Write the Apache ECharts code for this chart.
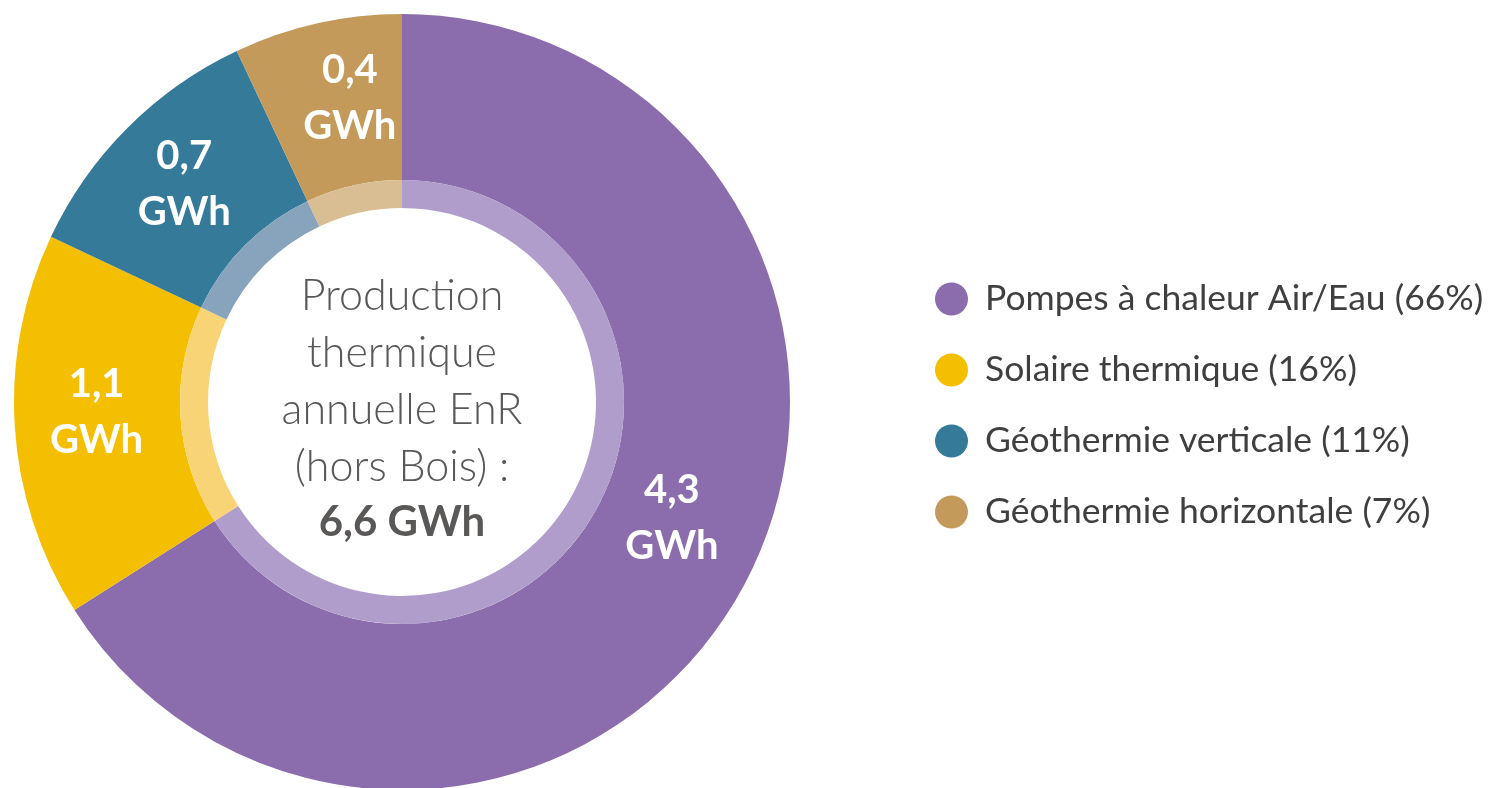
<!DOCTYPE html>
<html>
<head>
<meta charset="utf-8">
<script src="https://cdn.jsdelivr.net/npm/echarts@6/dist/echarts.min.js"></script>
<style>
  html, body { margin: 0; padding: 0; background: #ffffff; }
  #chart { width: 1497px; height: 788px; }
</style>
</head>
<body>
<div id="chart"></div>
<script>
// Sources of renewable heat (excluding wood)
const categories = [
  'Pompes à chaleur Air/Eau',
  'Solaire thermique',
  'Géothermie verticale',
  'Géothermie horizontale'
];
// Share of annual production, in percent
const shares = [66, 16, 11, 7];
// Annual production, in GWh
const gwh = [4.3, 1.1, 0.7, 0.4];
const totalGwh = 6.6;

const colors = ['#8B6DAD', '#F4BF00', '#367A9A', '#C49A5B'];
const lightColors = ['#B09DCB', '#F8D477', '#87A4BC', '#D9BE94'];
// small nudges so each value label sits well inside its slice
const labelOffsets = [[0, -32], [2, -9], [0, 0], [15, -3]];

const fmt = v => String(v).replace('.', ',');
const legendNames = categories.map((c, i) => `${c} (${shares[i]}%)`);

const chart = echarts.init(document.getElementById('chart'), null, { renderer: 'canvas' });

const center = [402, 402];

chart.setOption({
  backgroundColor: '#ffffff',
  animation: false,
  legend: {
    orient: 'vertical',
    left: 930,
    top: 276,
    icon: 'circle',
    itemWidth: 33,
    itemHeight: 33,
    itemGap: 35,
    data: legendNames,
    selectedMode: false,
    textStyle: {
      fontFamily: 'Lato',
      fontSize: 35.5,
      color: '#3F3F3F',
      lineHeight: 33,
      padding: [0, 0, 0, 12]
    }
  },
  graphic: [{
    type: 'text',
    x: center[0],
    y: 408,
    style: {
      text: '{n|Production}\n{n|thermique}\n{n|annuelle EnR}\n{n|(hors Bois) :}\n{b|' + fmt(totalGwh) + ' GWh}',
      align: 'center',
      verticalAlign: 'middle',
      rich: {
        n: { fontFamily: 'Lato', fontWeight: 300, fontSize: 43, lineHeight: 57, fill: '#5A5757', align: 'center' },
        b: { fontFamily: 'Lato', fontWeight: 'bold', fontSize: 42, lineHeight: 52, fill: '#5A5757', align: 'center' }
      }
    }
  }],
  series: [
    {
      type: 'pie',
      center: center,
      radius: [222, 388],
      startAngle: 90,
      clockwise: true,
      silent: true,
      itemStyle: { borderWidth: 0 },
      label: {
        show: true,
        position: 'inside',
        color: '#ffffff',
        fontFamily: 'Lato',
        fontWeight: 'bold',
        fontSize: 40,
        lineHeight: 56,
        formatter: p => `${fmt(gwh[p.dataIndex])}\nGWh`
      },
      labelLine: { show: false },
      data: legendNames.map((n, i) => ({
        name: n,
        value: shares[i],
        itemStyle: { color: colors[i] },
        label: { offset: labelOffsets[i] }
      }))
    },
    {
      type: 'pie',
      center: center,
      radius: [194, 222],
      startAngle: 90,
      clockwise: true,
      silent: true,
      itemStyle: { borderWidth: 0 },
      label: { show: false },
      labelLine: { show: false },
      data: legendNames.map((n, i) => ({
        name: n,
        value: shares[i],
        itemStyle: { color: lightColors[i] }
      }))
    }
  ]
});
</script>
</body>
</html>
